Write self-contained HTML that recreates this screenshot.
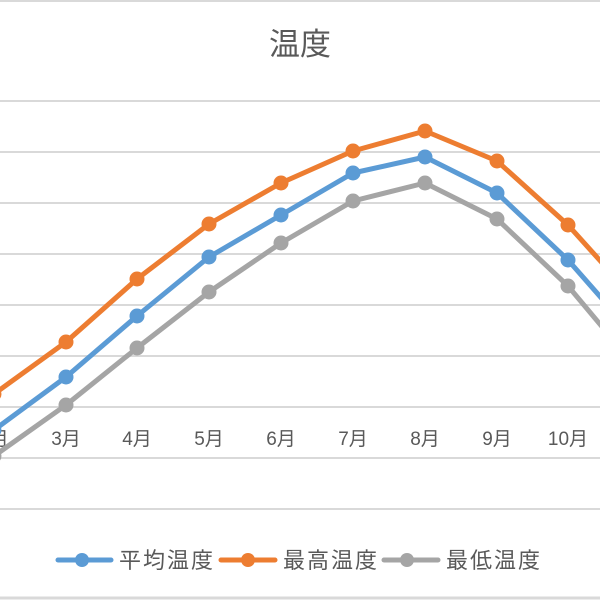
<!DOCTYPE html>
<html><head><meta charset="utf-8"><style>
html,body{margin:0;padding:0;background:#fff;}
svg{display:block;}
text{font-family:"Liberation Sans","Noto Sans CJK JP",sans-serif;fill:#595959;}
</style></head><body>
<svg width="600" height="600" viewBox="0 0 600 600">
<rect x="0" y="0" width="600" height="600" fill="#fff"/>
<line x1="0" y1="1" x2="600" y2="1" stroke="#d9d9d9" stroke-width="2"/>
<line x1="0" y1="598" x2="600" y2="598" stroke="#d9d9d9" stroke-width="3"/>
<text x="300" y="55" font-size="31" text-anchor="middle">温度</text>
<g stroke="#d9d9d9" stroke-width="2">
<line x1="0" y1="101" x2="600" y2="101"/><line x1="0" y1="152" x2="600" y2="152"/>
<line x1="0" y1="203" x2="600" y2="203"/><line x1="0" y1="254" x2="600" y2="254"/>
<line x1="0" y1="305" x2="600" y2="305"/><line x1="0" y1="356" x2="600" y2="356"/>
<line x1="0" y1="407" x2="600" y2="407"/><line x1="0" y1="458" x2="600" y2="458"/>
<line x1="0" y1="509" x2="600" y2="509"/>
</g>
<g font-size="19" text-anchor="middle">
<text x="-6" y="445">2月</text><text x="66" y="445">3月</text><text x="137" y="445">4月</text>
<text x="209" y="445">5月</text><text x="281" y="445">6月</text><text x="353" y="445">7月</text>
<text x="425" y="445">8月</text><text x="497" y="445">9月</text><text x="568" y="445">10月</text>
</g>
<g fill="none" stroke-width="5" stroke-linejoin="round">
<polyline stroke="#a5a5a5" points="-6,456 66,405 137,348 209,292 281,243 353,201 425,183 497,219 568,286 640,372"/>
<polyline stroke="#5b9bd5" points="-6,430 66,377 137,316 209,257 281,215 353,173 425,157 497,193 568,260 640,342"/>
<polyline stroke="#ed7d31" points="-6,394 66,342 137,279 209,224 281,183 353,151 425,131 497,161 568,225 640,305"/>
</g>
<g fill="#a5a5a5"><circle cx="-6" cy="456" r="7.5"/><circle cx="66" cy="405" r="7.5"/><circle cx="137" cy="348" r="7.5"/><circle cx="209" cy="292" r="7.5"/><circle cx="281" cy="243" r="7.5"/><circle cx="353" cy="201" r="7.5"/><circle cx="425" cy="183" r="7.5"/><circle cx="497" cy="219" r="7.5"/><circle cx="568" cy="286" r="7.5"/></g>
<g fill="#5b9bd5"><circle cx="-6" cy="430" r="7.5"/><circle cx="66" cy="377" r="7.5"/><circle cx="137" cy="316" r="7.5"/><circle cx="209" cy="257" r="7.5"/><circle cx="281" cy="215" r="7.5"/><circle cx="353" cy="173" r="7.5"/><circle cx="425" cy="157" r="7.5"/><circle cx="497" cy="193" r="7.5"/><circle cx="568" cy="260" r="7.5"/></g>
<g fill="#ed7d31"><circle cx="-6" cy="394" r="7.5"/><circle cx="66" cy="342" r="7.5"/><circle cx="137" cy="279" r="7.5"/><circle cx="209" cy="224" r="7.5"/><circle cx="281" cy="183" r="7.5"/><circle cx="353" cy="151" r="7.5"/><circle cx="425" cy="131" r="7.5"/><circle cx="497" cy="161" r="7.5"/><circle cx="568" cy="225" r="7.5"/></g>
<g stroke-width="5" stroke-linecap="round">
<line x1="58" y1="560" x2="111" y2="560" stroke="#5b9bd5"/><circle cx="82" cy="560" r="7" fill="#5b9bd5"/>
<line x1="221" y1="560" x2="275" y2="560" stroke="#ed7d31"/><circle cx="248" cy="560" r="7" fill="#ed7d31"/>
<line x1="384" y1="560" x2="438" y2="560" stroke="#a5a5a5"/><circle cx="407" cy="560" r="7" fill="#a5a5a5"/>
</g>
<g font-size="22">
<text x="119" y="568" textLength="94">平均温度</text>
<text x="283" y="568" textLength="94">最高温度</text>
<text x="446" y="568" textLength="94">最低温度</text>
</g>
</svg>
</body></html>
